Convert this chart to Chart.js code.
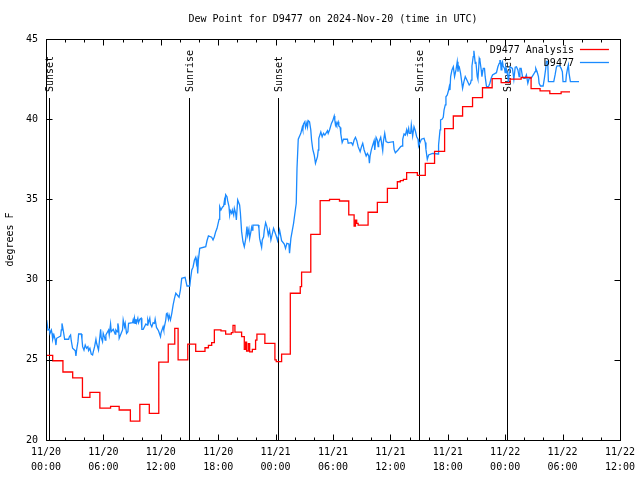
<!DOCTYPE html>
<html><head><meta charset="utf-8">
<script src="https://cdn.jsdelivr.net/npm/chart.js@4.4.1/dist/chart.umd.min.js"></script>
<style>html,body{margin:0;padding:0;background:#fff;}canvas{display:block;}</style>
</head><body>
<canvas id="c" width="640" height="480"></canvas>
<script>
// ---- data (hours since 2024-11-20 00:00 UTC, degrees F) ----
const chartTitle = 'Dew Point for D9477 on 2024-Nov-20 (time in UTC)';
const yAxisTitle = 'degrees F';
const seriesNames = ['D9477 Analysis', 'D9477'];
const xTickLabels = [['11/20','00:00'],['11/20','06:00'],['11/20','12:00'],['11/20','18:00'],
  ['11/21','00:00'],['11/21','06:00'],['11/21','12:00'],['11/21','18:00'],
  ['11/22','00:00'],['11/22','06:00'],['11/22','12:00']];
const sunHours = [0.28, 14.95, 24.26, 38.96, 48.18];
const sunLabels = ['Sunset','Sunrise','Sunset','Sunrise','Sunset'];

const analysisSteps = [
[0.10,25.28],[0.70,24.94],[1.77,24.24],[2.79,23.87],[3.81,22.66],[4.59,22.97],[5.63,21.99],[6.75,22.10],
[7.65,21.87],[8.82,21.18],[9.81,22.22],[10.80,21.66],[11.79,24.86],[12.78,25.98],[13.46,26.96],[13.81,24.99],
[14.82,25.98],[15.65,25.53],[16.62,25.75],[16.98,25.90],[17.32,26.07],[17.60,26.86],[18.29,26.80],[18.78,26.60],
[19.38,26.70],[19.55,27.15],[19.75,26.73],[20.45,26.44],[20.73,25.65],[20.87,26.10],[20.97,25.55],[21.15,26.00],
[21.29,25.50],[21.57,25.65],[21.91,26.23],[22.05,26.60],[22.88,26.03],[23.93,24.99],[24.07,24.88],[24.63,25.36],
[25.54,29.15],[26.58,29.56],[26.72,30.47],[27.68,32.82],[28.66,34.92],[29.64,35.00],[30.68,34.90],[31.65,34.03],
[32.21,33.34],[32.35,33.70],[32.48,33.50],[32.63,33.40],[33.67,34.20],[34.64,34.82],[35.69,35.69],[36.73,36.10],
[37.04,36.17],[37.36,36.25],[37.70,36.67],[38.82,36.50],[39.65,37.25],[40.62,38.00],[41.67,39.41],[42.58,40.20],
[43.55,40.78],[44.59,41.34],[45.63,41.96],[46.64,42.53],[47.58,42.28],[48.52,42.50],[49.67,42.60],[50.71,41.90],
[51.65,41.76],[52.67,41.59],[53.85,41.70],[54.78,41.70]];

const stationObs = [
[0.07,27.48],[0.21,26.86],[0.35,26.90],[0.42,26.65],[0.56,26.86],[0.63,26.65],[0.70,26.28],[0.83,26.55],[0.97,26.23],
[1.04,25.92],[1.11,26.34],[1.39,26.44],[1.53,26.48],[1.60,26.86],[1.67,27.27],[1.74,27.06],[1.81,26.81],[1.95,26.28],
[2.37,26.28],[2.44,26.44],[2.57,26.55],[2.64,26.19],[2.78,25.72],[3.06,25.57],[3.13,25.24],[3.20,25.61],[3.34,26.13],
[3.41,26.61],[3.69,26.61],[3.76,26.28],[3.83,25.82],[3.97,25.61],[4.10,25.92],[4.24,25.72],[4.38,25.82],[4.45,25.57],
[4.59,25.72],[4.73,25.36],[4.87,25.30],[4.94,25.50],[5.08,25.82],[5.22,26.28],[5.29,26.03],[5.49,25.61],[5.63,26.44],
[5.71,26.90],[5.77,26.40],[5.91,26.13],[5.98,26.65],[6.12,26.40],[6.19,26.23],[6.26,26.55],[6.54,26.86],[6.61,26.55],
[6.75,27.23],[6.82,26.75],[7.03,26.90],[7.23,26.61],[7.30,26.86],[7.44,26.75],[7.51,27.27],[7.58,27.06],[7.65,26.34],
[7.86,26.65],[8.00,26.86],[8.07,27.48],[8.21,27.06],[8.28,27.27],[8.42,26.65],[8.56,26.75],[8.63,27.27],[9.05,27.31],
[9.11,27.48],[9.18,27.27],[9.25,27.59],[9.32,27.27],[9.39,27.53],[9.46,27.31],[9.60,27.59],[9.67,27.31],[9.81,27.53],
[9.95,27.59],[10.02,26.90],[10.16,26.90],[10.44,27.23],[10.58,27.17],[10.64,27.48],[10.71,27.31],[10.85,27.59],
[10.92,27.23],[11.06,27.06],[11.20,27.31],[11.34,27.27],[11.41,27.53],[11.55,27.02],[11.76,26.81],[11.97,26.44],
[12.03,26.69],[12.24,27.06],[12.31,26.86],[12.52,27.48],[12.59,27.86],[12.66,27.90],[12.80,27.53],[12.87,27.79],
[13.01,27.48],[13.15,27.90],[13.29,28.42],[13.43,28.83],[13.57,29.15],[13.91,28.90],[14.05,29.35],[14.19,30.08],
[14.54,30.14],[14.74,29.60],[15.03,29.60],[15.10,29.98],[15.24,30.60],[15.37,30.77],[15.52,31.22],[15.65,31.39],
[15.73,31.02],[15.79,31.22],[15.86,30.39],[15.93,31.22],[16.07,31.95],[16.70,32.05],[16.83,32.42],[16.98,32.72],
[17.32,32.64],[17.46,32.47],[17.60,32.67],[17.74,32.99],[17.88,33.20],[18.09,33.76],[18.16,34.55],[18.29,34.34],
[18.44,34.51],[18.57,34.59],[18.65,34.92],[18.71,34.65],[18.78,35.29],[18.92,35.17],[18.99,34.92],[19.13,34.55],
[19.20,34.03],[19.27,34.30],[19.41,34.13],[19.48,34.34],[19.62,34.03],[19.69,34.44],[19.83,34.13],[19.90,33.72],
[20.04,34.96],[20.24,34.65],[20.32,34.17],[20.45,32.99],[20.59,32.36],[20.73,32.05],[20.87,32.51],[21.01,33.30],
[21.08,32.78],[21.21,33.14],[21.29,32.57],[21.42,32.99],[21.50,33.26],[21.57,33.09],[21.63,33.40],[22.19,33.40],
[22.26,33.20],[22.33,32.57],[22.54,32.01],[22.61,32.47],[22.75,32.67],[22.82,33.09],[22.96,33.55],[23.09,33.30],
[23.24,32.78],[23.37,33.09],[23.51,32.47],[23.79,33.20],[24.07,32.72],[24.21,32.43],[24.42,33.09],[24.63,32.43],
[24.91,32.22],[25.04,31.95],[25.18,32.26],[25.39,32.22],[25.46,31.64],[25.60,32.57],[25.88,33.51],[26.16,34.76],
[26.24,36.94],[26.37,38.75],[26.64,39.12],[26.79,39.49],[26.85,39.33],[26.92,39.70],[27.06,39.84],[27.13,39.49],
[27.27,39.78],[27.34,39.53],[27.41,39.91],[27.55,39.84],[27.68,39.33],[27.76,38.70],[27.89,38.12],[28.04,37.77],
[28.17,37.25],[28.38,37.66],[28.46,38.08],[28.52,38.81],[28.73,39.20],[28.87,38.91],[29.01,39.12],[29.15,39.01],
[29.43,39.28],[29.50,39.12],[29.64,39.33],[29.84,39.74],[29.98,39.91],[30.13,40.20],[30.19,39.95],[30.26,39.64],
[30.33,39.78],[30.40,39.64],[30.54,39.84],[30.61,39.58],[30.75,39.49],[30.82,39.08],[30.96,38.54],[31.10,38.75],
[31.51,38.75],[31.59,38.50],[31.93,38.54],[32.07,38.39],[32.21,38.70],[32.35,38.87],[32.49,38.66],[32.63,38.29],
[32.84,37.97],[32.98,38.29],[33.11,38.50],[33.26,38.08],[33.47,37.71],[33.60,37.87],[33.74,37.71],[33.81,37.25],
[33.88,37.71],[34.02,38.12],[34.16,38.39],[34.30,38.66],[34.37,38.08],[34.44,38.50],[34.51,38.87],[34.64,38.70],
[34.72,38.29],[34.78,38.54],[34.99,38.87],[35.06,38.60],[35.20,38.04],[35.27,38.60],[35.41,39.12],[35.55,38.60],
[35.76,38.54],[36.31,38.60],[36.39,38.12],[36.52,37.91],[36.80,38.08],[37.08,38.29],[37.22,38.33],[37.29,38.75],
[37.43,39.08],[37.57,39.01],[37.70,39.33],[37.78,39.08],[37.91,39.43],[37.98,39.12],[38.12,39.12],[38.19,39.64],
[38.33,38.95],[38.47,39.53],[38.61,39.28],[38.75,38.91],[38.89,38.75],[38.95,38.33],[39.10,38.54],[39.24,38.75],
[39.52,38.81],[39.65,38.54],[39.72,38.12],[39.86,37.50],[40.00,37.77],[40.41,37.87],[40.98,37.83],[41.04,38.39],
[41.19,39.33],[41.25,39.95],[41.40,39.99],[41.53,40.12],[41.61,40.57],[41.74,40.89],[41.81,41.40],[41.95,41.51],
[42.09,41.82],[42.16,42.03],[42.23,41.82],[42.30,42.65],[42.44,43.07],[42.58,43.27],[42.71,42.65],[42.86,43.07],
[42.99,43.58],[43.07,42.96],[43.13,43.32],[43.20,43.27],[43.34,42.86],[43.41,42.55],[43.55,41.93],[43.69,42.34],
[43.83,42.65],[43.96,42.49],[44.24,42.13],[44.38,42.24],[44.45,42.44],[44.53,43.32],[44.66,43.90],[44.73,44.27],
[44.80,43.90],[44.87,43.48],[44.94,43.58],[45.08,42.65],[45.15,42.49],[45.22,43.07],[45.29,43.80],[45.36,43.69],
[45.50,43.07],[45.57,42.65],[45.71,43.17],[45.84,43.17],[45.91,42.65],[46.05,42.03],[46.26,42.03],[46.40,42.24],
[46.54,42.55],[46.68,42.76],[46.96,42.86],[47.09,42.90],[47.24,43.27],[47.38,43.48],[47.45,43.65],[47.51,43.65],
[47.58,43.07],[47.66,43.48],[47.72,43.58],[47.79,43.32],[47.93,43.17],[48.00,42.90],[48.07,43.27],[48.14,43.11],
[48.28,42.65],[48.35,42.24],[48.42,42.90],[48.49,43.27],[48.76,43.17],[48.91,42.49],[49.05,43.24],[49.18,43.27],
[49.33,43.07],[49.46,42.65],[49.54,43.17],[49.67,43.17],[49.81,42.65],[49.95,42.55],[50.09,42.55],[50.22,42.76],
[50.37,42.24],[50.51,42.55],[50.71,42.55],[51.00,42.82],[51.13,42.96],[51.20,43.17],[51.34,42.96],[51.48,42.65],
[51.55,42.24],[51.69,42.07],[51.97,42.07],[52.10,42.55],[52.25,43.20],[52.31,43.60],[52.45,43.60],[52.52,42.34],
[53.08,42.34],[53.22,42.76],[53.36,43.24],[53.43,43.32],[53.71,43.32],[53.85,43.17],[53.98,42.96],[54.05,42.34],
[54.34,42.34],[54.40,42.76],[54.55,43.24],[54.61,43.38],[54.68,42.86],[54.82,42.34],[55.72,42.34]];

const seriesColors = ['#ff0000', '#1a8aff'];
const FONT = '"DejaVu Sans Mono", "Liberation Mono", monospace';

const gnuFrame = {
  id: 'gnuFrame',
  beforeDatasetsDraw(chart) {
    const {ctx, chartArea: a, scales: {x}} = chart;
    ctx.save();
    ctx.strokeStyle = '#000'; ctx.lineWidth = 1; ctx.fillStyle = '#000';
    ctx.font = '10px ' + FONT;
    sunHours.forEach((h, i) => {
      const px = Math.round(x.getPixelForValue(h)) + 0.5;
      ctx.beginPath(); ctx.moveTo(px, a.top + 59); ctx.lineTo(px, a.bottom); ctx.stroke();
      ctx.save();
      ctx.translate(px + 1, a.top + 53);
      ctx.rotate(-Math.PI / 2);
      ctx.textAlign = 'left'; ctx.textBaseline = 'middle';
      ctx.fillText(sunLabels[i], 0, 0);
      ctx.restore();
    });
    ctx.restore();
  },
  afterDatasetsDraw(chart) {
    const {ctx, chartArea: a, scales: {x, y}} = chart;
    ctx.save();
    ctx.strokeStyle = '#000'; ctx.lineWidth = 1; ctx.fillStyle = '#000';
    const L = Math.round(a.left) + 0.5, R = Math.round(a.right) + 0.5;
    const T = Math.round(a.top) + 0.5, B = Math.round(a.bottom) + 0.5;
    ctx.beginPath();
    for (let h = x.min; h <= x.max; h += 2) {
      const px = Math.round(x.getPixelForValue(h)) + 0.5;
      const len = (h % 6 === 0) ? 6 : 3;
      ctx.moveTo(px, B); ctx.lineTo(px, B - len);
      ctx.moveTo(px, T); ctx.lineTo(px, T + len);
    }
    for (let v = y.min; v <= y.max; v += 5) {
      const py = Math.round(y.getPixelForValue(v)) + 0.5;
      ctx.moveTo(L, py); ctx.lineTo(L + 6, py);
      ctx.moveTo(R, py); ctx.lineTo(R - 6, py);
    }
    ctx.stroke();
    ctx.strokeRect(L, T, R - L, B - T);
    // title
    ctx.font = '10px ' + FONT;
    ctx.textAlign = 'center'; ctx.textBaseline = 'middle';
    ctx.fillText(chartTitle, (a.left + a.right) / 2, 19);
    // legend (key)
    chart.data.datasets.forEach((ds, i) => {
      const ly = a.top + 10 + i * 13;
      ctx.fillStyle = '#000'; ctx.textAlign = 'right';
      ctx.fillText(ds.label, a.right - 46, ly + 1);
      ctx.strokeStyle = ds.borderColor;
      ctx.lineWidth = 1.3;
      ctx.beginPath(); ctx.moveTo(a.right - 40, ly + 0.5); ctx.lineTo(a.right - 11, ly + 0.5); ctx.stroke();
    });
    ctx.restore();
  }
};

new Chart(document.getElementById('c'), {
  type: 'line',
  data: {
    datasets: [
      { label: seriesNames[0], data: analysisSteps.map(p => ({x: p[0], y: p[1]})),
        borderColor: seriesColors[0], borderWidth: 1.3, pointRadius: 0, stepped: true, fill: false },
      { label: seriesNames[1], data: stationObs.map(p => ({x: p[0], y: p[1]})),
        borderColor: seriesColors[1], borderWidth: 1.3, pointRadius: 0, tension: 0, fill: false }
    ]
  },
  options: {
    responsive: false, maintainAspectRatio: false, animation: false, devicePixelRatio: 1,
    layout: { padding: { top: 39, right: 19, left: 0, bottom: 0 } },
    plugins: { legend: { display: false }, title: { display: false }, tooltip: { enabled: false } },
    scales: {
      x: {
        type: 'linear', min: 0, max: 60,
        grid: { display: false, drawTicks: false }, border: { display: false },
        ticks: { stepSize: 6, padding: 5, maxRotation: 0, autoSkip: false, color: '#000',
          font: { family: FONT, size: 10, lineHeight: 1.5 },
          callback: (v) => xTickLabels[Math.round(v / 6)] },
        afterFit: (s) => { s.height = 40; }
      },
      y: {
        min: 20, max: 45,
        grid: { display: false, drawTicks: false }, border: { display: false },
        ticks: { stepSize: 5, padding: 8, color: '#000', font: { family: FONT, size: 10 } },
        title: { display: true, text: yAxisTitle, color: '#000', font: { family: FONT, size: 10 }, padding: { top: 4, bottom: 0 } },
        afterFit: (s) => { s.width = 46; }
      }
    }
  },
  plugins: [gnuFrame]
});
</script>
</body></html>
